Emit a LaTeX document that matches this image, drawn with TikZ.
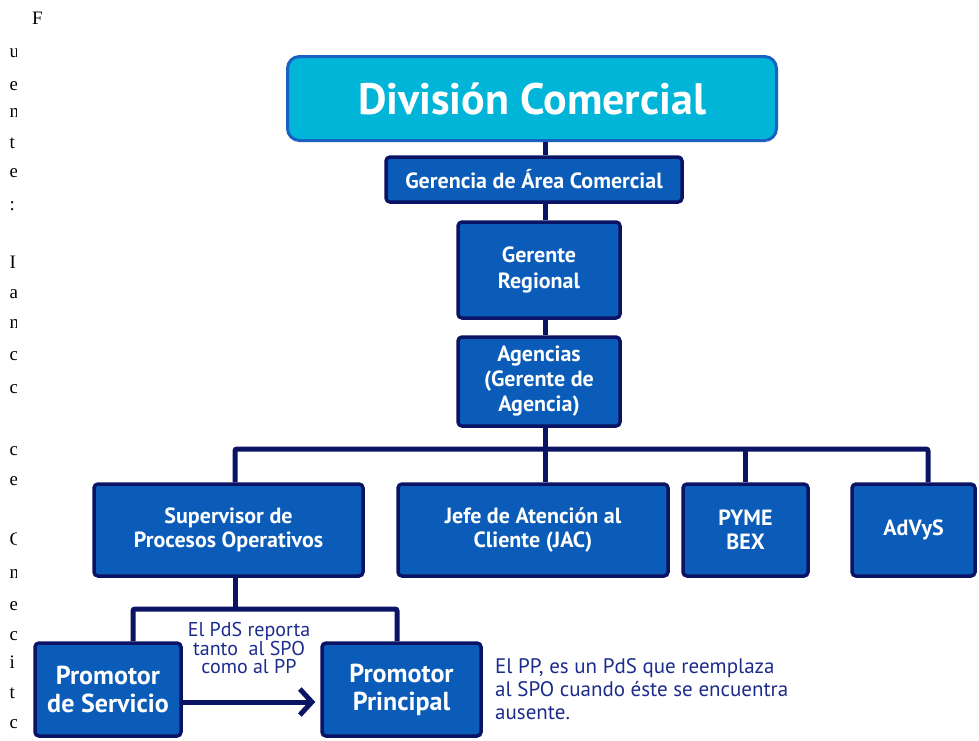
\documentclass[tikz,border=0pt]{standalone}
\usepackage{fontspec}
\setmainfont{PT Sans}
\newfontfamily\serifletters{Liberation Serif}
\usetikzlibrary{arrows.meta}
\definecolor{boxblue}{HTML}{0A5CB8}
\definecolor{navy}{HTML}{0B1464}
\definecolor{cyanfill}{HTML}{00B5D8}
\definecolor{cyanborder}{HTML}{1A62C2}
\definecolor{notecol}{HTML}{1C2C8C}
\begin{document}
\begin{tikzpicture}[x=1pt,y=-1pt,
  box/.style={draw=navy, line width=3.5pt, fill=boxblue, rounded corners=4pt,
    text=white, align=center, inner sep=0pt, font=\fontsize{22}{24}\selectfont\bfseries},
  titlebox/.style={draw=cyanborder, line width=3pt, fill=cyanfill, rounded corners=12pt,
    text=white, align=center, inner sep=0pt, font=\fontsize{44}{48}\selectfont\bfseries},
  link/.style={draw=navy, line width=5pt},
  note/.style={text=notecol, align=left, inner sep=0pt},
  frag/.style={anchor=base west, inner sep=0pt, font=\serifletters\fontsize{19}{20}\selectfont},
]
\useasboundingbox (0,0) rectangle (979,740);

% boxes
\node[titlebox, minimum width=489pt, minimum height=84pt] (dc) at (532,98.5) {División Comercial};
\node[box, minimum width=296pt, minimum height=45pt] (gac) at (534,179.5) {Gerencia de Área Comercial};
\node[box, minimum width=162pt, minimum height=96pt, font=\fontsize{22}{26}\selectfont\bfseries] (gr) at (539,270) {Gerente\\Regional};
\node[box, minimum width=162pt, minimum height=89pt, font=\fontsize{22}{25}\selectfont\bfseries] (ag) at (539,381.5) {Agencias\\(Gerente de\\Agencia)};
\node[box, minimum width=269pt, minimum height=92pt] (spo) at (228.5,530) {Supervisor de\\Procesos Operativos};
\node[box, minimum width=270pt, minimum height=92pt] (jac) at (533,530) {Jefe de Atención al\\Cliente (JAC)};
\node[box, minimum width=125pt, minimum height=92pt] (pyme) at (745.5,530) {PYME\\BEX};
\node[box, minimum width=123pt, minimum height=92pt] (advys) at (913.5,530) {AdVyS};
\node[box, minimum width=146pt, minimum height=93pt, font=\fontsize{26}{28}\selectfont\bfseries] (pds) at (108,689.5) {Promotor\\de Servicio};
\node[box, minimum width=159pt, minimum height=93pt, font=\fontsize{26}{28}\selectfont\bfseries] (pp) at (401.5,689.5) {Promotor\\Principal};

% notes
\node[note, align=center, font=\fontsize{20}{18.5}\selectfont] (n1) at (249,648) {El PdS reporta\\tanto\ \ al SPO\\como al PP};
\node[note, anchor=west, font=\fontsize{21}{23}\selectfont] (n2) at (495,689) {El PP, es un PdS que reemplaza\\al SPO cuando éste se encuentra\\ausente.};

% connectors
\coordinate (spine) at (545,0);
\coordinate (busy) at (0,449);
\coordinate (c1) at (235,0);
\coordinate (c3) at (745,0);
\coordinate (c4) at (928,0);
\coordinate (sub) at (0,609);
\coordinate (d1) at (133,0);
\coordinate (d2) at (397,0);
\draw[link] (dc.south -| spine) -- (gac.north -| spine);
\draw[link] (gac.south -| spine) -- (gr.north -| spine);
\draw[link] (gr.south -| spine) -- (ag.north -| spine);
\draw[link] (ag.south -| spine) -- (jac.north -| spine);
\draw[link, rounded corners=2pt] (spo.north -| c1) -- (c1 |- busy) -- (c4 |- busy) -- (advys.north -| c4);
\draw[link] (c3 |- busy) -- (pyme.north -| c3);
\draw[link] (spo.south -| c1) -- (c1 |- sub);
\draw[link, rounded corners=2pt] (pds.north -| d1) -- (d1 |- sub) -- (d2 |- sub) -- (pp.north -| d2);
\draw[link, -{Straight Barb[length=12pt, width=26pt]}] (pds.east |- 0,702) -- ([xshift=-5pt]pp.west |- 0,702);

% clipped fragments of surrounding text
\node[frag] (fF) at (32,24) {F};
\begin{scope}
\clip (0,0) rectangle (16.5,740);
\foreach \ch/\yy [count=\i] in {u/57, e/90, n/117, t/148, e/177, :/210, I/268, a/298, n/328, c/360, c/393, c/455, e/485, C/545, n/578, e/610, c/640, i/668, t/698, c/728}{
  \node[frag] (f\i) at (9.5,\yy) {\ch};
}
\end{scope}
\end{tikzpicture}
\end{document}
